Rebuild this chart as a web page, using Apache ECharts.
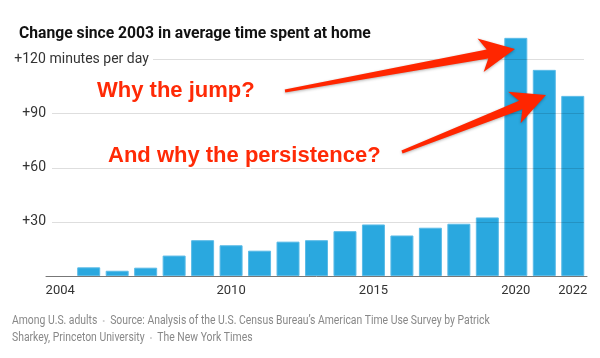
<!DOCTYPE html>
<html><head><meta charset="utf-8">
<script src="https://cdn.jsdelivr.net/npm/echarts@6/dist/echarts.min.js"></script>
<style>html,body{margin:0;padding:0;background:#fff}#c{width:600px;height:358px}</style>
</head><body><div id="c"></div>
<script>
const titleText = 'Change since 2003 in average time spent at home';
const years = ['2004','2005','2006','2007','2008','2009','2010','2011','2012','2013','2014','2015','2016','2017','2018','2019','2020','2021','2022'];
const minutesAtHome = [0, 4.8, 2.9, 4.6, 11.3, 19.8, 17, 14, 19, 19.8, 24.8, 28.5, 22.4, 26.7, 28.9, 32.4, 131.7, 114, 99.6];
const yTicks = [0, 30, 60, 90, 120];
const yUnit = ' minutes per day';
const xLabelYears = ['2004', '2010', '2015', '2020', '2022'];
const annotations = ['Why the jump?', 'And why the persistence?'];
const footerLine1 = ['Among U.S. adults', 'Source: Analysis of the U.S. Census Bureau\u2019s American Time Use Survey by Patrick'];
const footerLine2 = ['Sharkey, Princeton University', 'The New York Times'];

function arrow(tail, tip, headLen, headHalf, neckHalf, tailHalf) {
  const dx = tip[0] - tail[0], dy = tip[1] - tail[1], L = Math.hypot(dx, dy);
  const ux = dx / L, uy = dy / L, nx = -uy, ny = ux;
  const at = (d, w) => [tip[0] - ux * d + nx * w, tip[1] - uy * d + ny * w];
  return [
    [tail[0] + nx * tailHalf, tail[1] + ny * tailHalf],
    at(headLen * 0.8, neckHalf), at(headLen, headHalf), tip,
    at(headLen, -headHalf), at(headLen * 0.8, -neckHalf),
    [tail[0] - nx * tailHalf, tail[1] - ny * tailHalf]
  ];
}

const GRID = {left: 46, right: 13, top: 59, bottom: 82};
const W = 600, H = 358;
const plotBottom = H - GRID.bottom, plotH = H - GRID.top - GRID.bottom;
const topTick = yTicks[yTicks.length - 1];

const chart = echarts.init(document.getElementById('c'), null, {renderer: 'canvas'});
const sep = '{s|\u2022}';
const red = '#ff2a06';
const annoStyle = {
  font: 'bold 22px "Liberation Sans", Arial, sans-serif',
  fill: red, stroke: '#ffffff', lineWidth: 3,
  verticalAlign: 'middle',
  shadowBlur: 3, shadowColor: 'rgba(0,0,0,0.35)', shadowOffsetY: 1.5
};
const arrowStyle = {fill: '#ff2600', shadowBlur: 3, shadowColor: 'rgba(0,0,0,0.3)', shadowOffsetY: 1};
const footRich = {
  t: {fontFamily: 'Roboto', fontSize: 12, fill: '#888'},
  s: {fontSize: 8, fill: '#ccc', padding: [0, 6]}
};

// light horizontal gridlines (start just right of each tick label, like the original)
const gridRects = yTicks.filter(v => v > 0).map(v => {
  const y = Math.round(plotBottom - plotH * v / topTick);
  const x0 = v === topTick ? 153 : 52;
  return {type: 'rect', z: 50, silent: true,
    shape: {x: x0, y: y, width: 584 - x0, height: 1},
    style: {fill: 'rgba(0,0,0,0.13)'}};
});

chart.setOption({
  animation: false,
  title: {
    text: titleText, left: 14, top: 21,
    textStyle: {fontFamily: 'Roboto', fontWeight: 'bold', fontSize: 15.7, color: '#121212'}
  },
  grid: GRID,
  xAxis: {
    type: 'category', data: years, z: 5,
    axisLine: {lineStyle: {color: '#777', width: 1}},
    axisTick: {show: false},
    axisLabel: {
      interval: (i, v) => xLabelYears.indexOf(v) >= 0,
      margin: 8, fontFamily: 'Roboto', fontSize: 13, color: '#333'
    }
  },
  yAxis: {
    type: 'value', min: 0, max: topTick, interval: 30,
    axisLine: {show: false}, axisTick: {show: false},
    splitLine: {show: false},
    axisLabel: {
      margin: 32, align: 'left',
      formatter: v => v === 0 ? '' : (v === topTick ? '{n|+' + v + '}{u|' + yUnit + '}' : '{n|+' + v + '}'),
      rich: {
        n: {width: 32, align: 'right', fontFamily: 'Roboto', fontSize: 14, color: '#333'},
        u: {fontFamily: 'Roboto', fontSize: 14, color: '#333'}
      }
    }
  },
  series: [{
    type: 'bar', barWidth: 23, clip: false, z: 2,
    data: minutesAtHome.map(v => v === 0 ? {value: v, itemStyle: {borderWidth: 0, opacity: 0}} : v),
    itemStyle: {color: '#2aa8df', borderColor: '#5bbbe7', borderWidth: 1}
  }],
  graphic: gridRects.concat([
    {type: 'text', x: 97, y: 91, z: 100, style: Object.assign({text: annotations[0]}, annoStyle)},
    {type: 'text', x: 108, y: 156, z: 100, style: Object.assign({text: annotations[1]}, annoStyle)},
    {type: 'polygon', z: 101, shape: {points: arrow([285, 91], [515, 49], 35, 17, 4.5, 1.5)}, style: arrowStyle},
    {type: 'polygon', z: 101, shape: {points: arrow([402, 152], [546, 95], 34, 17, 4.5, 1.5)}, style: arrowStyle},
    {type: 'text', x: 12, y: 321, z: 100, scaleX: 0.865, style: {
      text: '{t|' + footerLine1[0] + '}' + sep + '{t|' + footerLine1[1] + '}',
      verticalAlign: 'middle', rich: footRich
    }},
    {type: 'text', x: 12, y: 338, z: 100, scaleX: 0.865, style: {
      text: '{t|' + footerLine2[0] + '}' + sep + '{t|' + footerLine2[1] + '}',
      verticalAlign: 'middle', rich: footRich
    }}
  ])
});
</script></body></html>
